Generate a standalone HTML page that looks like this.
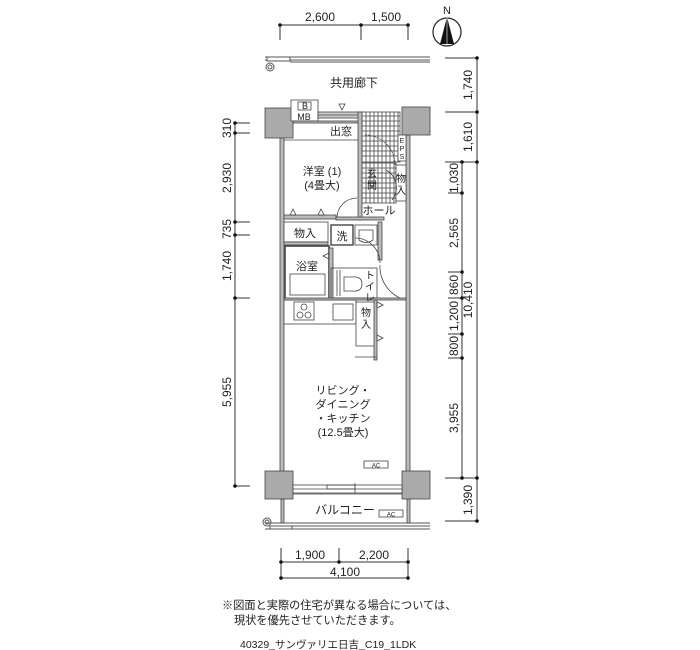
<!DOCTYPE html>
<html><head><meta charset="utf-8"><style>
html,body{margin:0;padding:0;background:#fff;width:700px;height:650px;overflow:hidden}
svg{display:block}
text{font-family:"Liberation Sans","Noto Sans CJK JP",sans-serif;fill:#222}
</style></head><body>
<svg width="700" height="650" viewBox="0 0 700 650" xmlns="http://www.w3.org/2000/svg">
<g stroke="#333" stroke-width="1" fill="none">
<line x1="280" y1="25" x2="408" y2="25"/>
<line x1="280" y1="25" x2="280" y2="40"/><line x1="361" y1="25" x2="361" y2="40"/><line x1="408" y1="25" x2="408" y2="40"/>
<line x1="477" y1="58" x2="477" y2="521"/>
<line x1="462" y1="162" x2="462" y2="478"/>
<line x1="445" y1="58" x2="477" y2="58"/><line x1="445" y1="112" x2="477" y2="112"/>
<line x1="445" y1="162" x2="477" y2="162"/><line x1="445" y1="478" x2="477" y2="478"/><line x1="445" y1="521" x2="477" y2="521"/>
<line x1="448" y1="193" x2="462" y2="193"/><line x1="448" y1="272" x2="462" y2="272"/><line x1="448" y1="298" x2="462" y2="298"/>
<line x1="448" y1="334" x2="462" y2="334"/><line x1="448" y1="358" x2="462" y2="358"/>
<line x1="235" y1="123" x2="235" y2="486"/>
<line x1="235" y1="123" x2="250" y2="123"/><line x1="235" y1="133" x2="250" y2="133"/><line x1="235" y1="222" x2="250" y2="222"/>
<line x1="235" y1="235" x2="250" y2="235"/><line x1="235" y1="298" x2="250" y2="298"/><line x1="235" y1="486" x2="250" y2="486"/>
<line x1="281" y1="562" x2="408" y2="562"/><line x1="281" y1="578" x2="408" y2="578"/>
<line x1="281" y1="548" x2="281" y2="580"/><line x1="339" y1="548" x2="339" y2="562"/><line x1="408" y1="548" x2="408" y2="580"/>
</g>
<g fill="#111">
<circle cx="280" cy="25" r="1.8"/><circle cx="361" cy="25" r="1.8"/><circle cx="408" cy="25" r="1.8"/>
<circle cx="477" cy="58" r="1.8"/><circle cx="477" cy="112" r="1.8"/><circle cx="477" cy="162" r="1.8"/><circle cx="477" cy="478" r="1.8"/><circle cx="477" cy="521" r="1.8"/>
<circle cx="462" cy="162" r="1.8"/><circle cx="462" cy="193" r="1.8"/><circle cx="462" cy="272" r="1.8"/><circle cx="462" cy="298" r="1.8"/><circle cx="462" cy="334" r="1.8"/><circle cx="462" cy="358" r="1.8"/><circle cx="462" cy="478" r="1.8"/>
<circle cx="235" cy="123" r="1.8"/><circle cx="235" cy="133" r="1.8"/><circle cx="235" cy="222" r="1.8"/><circle cx="235" cy="235" r="1.8"/><circle cx="235" cy="298" r="1.8"/><circle cx="235" cy="486" r="1.8"/>
<circle cx="281" cy="562" r="1.8"/><circle cx="339" cy="562" r="1.8"/><circle cx="408" cy="562" r="1.8"/><circle cx="281" cy="578" r="1.8"/><circle cx="408" cy="578" r="1.8"/>
</g>
<g font-size="12" text-anchor="middle">
<text x="320" y="21">2,600</text><text x="386" y="21">1,500</text>
<text x="310" y="559">1,900</text><text x="374" y="559">2,200</text><text x="345" y="576">4,100</text>
</g>
<g font-size="12" text-anchor="middle">
<text transform="translate(472,85) rotate(-90)">1,740</text>
<text transform="translate(472,137) rotate(-90)">1,610</text>
<text transform="translate(472,300) rotate(-90)">10,410</text>
<text transform="translate(472,500) rotate(-90)">1,390</text>
<text transform="translate(458,178) rotate(-90)">1,030</text>
<text transform="translate(458,233) rotate(-90)">2,565</text>
<text transform="translate(458,285) rotate(-90)">860</text>
<text transform="translate(458,316) rotate(-90)">1,200</text>
<text transform="translate(458,346) rotate(-90)">800</text>
<text transform="translate(458,418) rotate(-90)">3,955</text>
<text transform="translate(231,128) rotate(-90)">310</text>
<text transform="translate(231,178) rotate(-90)">2,930</text>
<text transform="translate(231,229) rotate(-90)">735</text>
<text transform="translate(231,266) rotate(-90)">1,740</text>
<text transform="translate(231,392) rotate(-90)">5,955</text>
</g>
<circle cx="447" cy="32" r="14" fill="none" stroke="#222" stroke-width="1.2"/>
<polygon points="447,17 440,44 454,44" fill="#111"/>
<line x1="447" y1="17" x2="447" y2="44" stroke="#fff" stroke-width="0.6"/>
<text x="447" y="14" font-size="11" text-anchor="middle">N</text>
<g stroke="#555" fill="none">
<line x1="265" y1="57" x2="430" y2="57"/><line x1="265" y1="60" x2="430" y2="60"/><line x1="290" y1="62" x2="430" y2="62"/>
<rect x="267" y="57" width="23" height="4" fill="#fff"/>
<circle cx="270" cy="67" r="4"/><circle cx="270" cy="67" r="2"/>
<line x1="265" y1="523" x2="430" y2="523"/><line x1="290" y1="526" x2="430" y2="526"/><line x1="265" y1="529" x2="430" y2="529"/>
<rect x="270" y="526" width="22" height="3" fill="#fff"/>
<circle cx="267" cy="522" r="4"/><circle cx="267" cy="522" r="2"/>
</g>
<text x="354" y="87" font-size="12" text-anchor="middle">共用廊下</text>
<g fill="#bbb" stroke="#444" stroke-width="0.8">
<rect x="280" y="138" width="4" height="335"/>
<rect x="406" y="135" width="4" height="338"/>
<rect x="281" y="499" width="3" height="24"/>
<rect x="407" y="499" width="3" height="24"/>
<rect x="265" y="108" width="28" height="30" fill="#aaa"/>
<rect x="402" y="107" width="28" height="28" fill="#aaa"/>
<rect x="265" y="471" width="28" height="28" fill="#aaa"/>
<rect x="402" y="471" width="28" height="28" fill="#aaa"/>
</g>
<g stroke="#444" fill="none" stroke-width="0.8">
<rect x="293" y="485" width="109" height="8" fill="#fff"/>
<line x1="293" y1="489" x2="402" y2="489"/>
<rect x="327" y="485" width="28" height="4"/>
<line x1="355" y1="483" x2="355" y2="493"/>
<line x1="293" y1="494" x2="402" y2="494"/>
</g>
<text x="345" y="514" font-size="12" text-anchor="middle">バルコニー</text>
<rect x="379" y="510" width="24" height="7" fill="#fff" stroke="#444" stroke-width="0.8"/>
<text x="391" y="516.5" font-size="6" text-anchor="middle">AC</text>
<rect x="364" y="461" width="24" height="7" fill="#fff" stroke="#444" stroke-width="0.8"/>
<text x="376" y="467.5" font-size="6" text-anchor="middle">AC</text>
<g font-size="11" text-anchor="middle">
<text x="343" y="394">リビング・</text>
<text x="343" y="408">ダイニング</text>
<text x="343" y="422">・キッチン</text>
<text x="343" y="436">(12.5畳大)</text>
</g>
<g stroke="#444" fill="none" stroke-width="0.8">
<rect x="291" y="100" width="27" height="21" fill="#fff"/>
<rect x="298" y="102" width="13" height="8"/>
<rect x="318" y="112" width="44" height="6" fill="#ccc"/>
<line x1="318" y1="115" x2="362" y2="115"/>
<rect x="293" y="121" width="69" height="2" fill="#bbb"/>
<line x1="284" y1="140" x2="360" y2="140"/>
<polygon points="339,104 345,104 342,110"/>
<rect x="362" y="112" width="38" height="50" fill="#fff"/>
<rect x="362" y="163" width="34" height="40" fill="#fff"/>
<rect x="358" y="112" width="4" height="108" fill="#bbb"/>
<path d="M366 112 V162 M370 112V162 M374 112V162 M378 112V162 M382 112V162 M386 112V162 M390 112V162 M394 112V162 M398 112V162"/>
<path d="M362 116H400 M362 121H400 M362 126H400 M362 131H400 M362 136H400 M362 141H400 M362 146H400 M362 151H400 M362 156H400"/>
<path d="M366 163V203 M370 163V203 M374 163V203 M378 163V203 M382 163V203 M386 163V203 M390 163V203 M394 163V203"/>
<path d="M362 168H396 M362 173H396 M362 178H396 M362 183H396 M362 188H396 M362 193H396 M362 198H396"/>
<rect x="398" y="135" width="8" height="26" fill="#fff"/>
<rect x="396" y="165" width="10" height="36" fill="#fff"/>
<path d="M365 135 A30 30 0 0 1 395 165" stroke-dasharray="2,1"/>
<path d="M386 170 A20 20 0 0 1 392 200"/>
<path d="M337 218 A20 20 0 0 1 357 198"/>
<rect x="284" y="215" width="52" height="4" fill="#bbb"/>
<rect x="336" y="217" width="48" height="3" fill="#bbb"/>
<polygon points="290,215 293,209 296,215"/><polygon points="318,215 321,209 324,215"/>
<rect x="284" y="222" width="44" height="20" fill="#fff"/>
<rect x="284" y="242" width="44" height="3" fill="#bbb"/>
<rect x="331" y="225" width="22" height="20" fill="#fff" stroke-width="1.4"/>
<rect x="355" y="225" width="22" height="20"/>
<path d="M359 230 H373 V240 Q366 245 359 240 Z"/>
<rect x="378" y="222" width="4" height="38" fill="#bbb"/>
<rect x="285" y="246" width="44" height="53" fill="#fff" stroke-width="1.6"/>
<rect x="290" y="274" width="35" height="21"/>
<rect x="329" y="248" width="4" height="50" fill="#bbb"/>
<polygon points="329,253 323,256 329,259"/>
<path d="M355 238 A25 25 0 0 1 380 263"/>
<rect x="331" y="268" width="46" height="30"/>
<path d="M337 270 V296 M340 270 V296"/>
<path d="M344 277 H352 Q362 276 362 284 Q362 292 352 291 H344 Z"/>
<path d="M380 265 A35 35 0 0 0 405 300"/>
<rect x="284" y="300" width="72" height="24" fill="#fff"/>
<rect x="284" y="298" width="122" height="2" fill="#bbb"/>
<rect x="294" y="302" width="20" height="18"/>
<circle cx="300" cy="315" r="3"/><circle cx="308" cy="315" r="3"/><circle cx="304" cy="307" r="3"/>
<rect x="333" y="304" width="20" height="16"/>
<rect x="356" y="302" width="20" height="44" fill="#fff"/>
<rect x="374" y="300" width="3" height="60" fill="#bbb"/>
<path d="M355 357 H377"/>
<polygon points="377,302 383,305 377,308"/><polygon points="377,335 383,338 377,341"/>
</g>
<g font-size="11" text-anchor="middle">
<text x="305" y="109" font-size="9">B</text>
<text x="304" y="120" font-size="9">MB</text>
<text x="341" y="135">出窓</text>
<text x="322" y="175">洋室 (1)</text>
<text x="322" y="189">(4畳大)</text>
<text x="379" y="214">ホール</text>
<text x="305" y="237">物入</text>
<text x="342" y="240">洗</text>
<text x="307" y="270">浴室</text>
</g>
<g font-size="10" text-anchor="middle">
<text x="402" y="143" font-size="7">E</text><text x="402" y="151" font-size="7">P</text><text x="402" y="159" font-size="7">S</text>
<text x="372" y="177">玄</text><text x="372" y="189">関</text>
<text x="401" y="182">物</text><text x="401" y="194">入</text>
<text x="370" y="279">ト</text><text x="370" y="290">イ</text><text x="370" y="301">レ</text>
<text x="366" y="316">物</text><text x="366" y="328">入</text>
</g>
<g font-size="11.2">
<text x="222" y="609">※図面と実際の住宅が異なる場合については、</text>
<text x="234" y="624">現状を優先させていただきます。</text>
<text x="240" y="648" font-size="10.5">40329_サンヴァリエ日吉_C19_1LDK</text>
</g>
</svg>
</body></html>
